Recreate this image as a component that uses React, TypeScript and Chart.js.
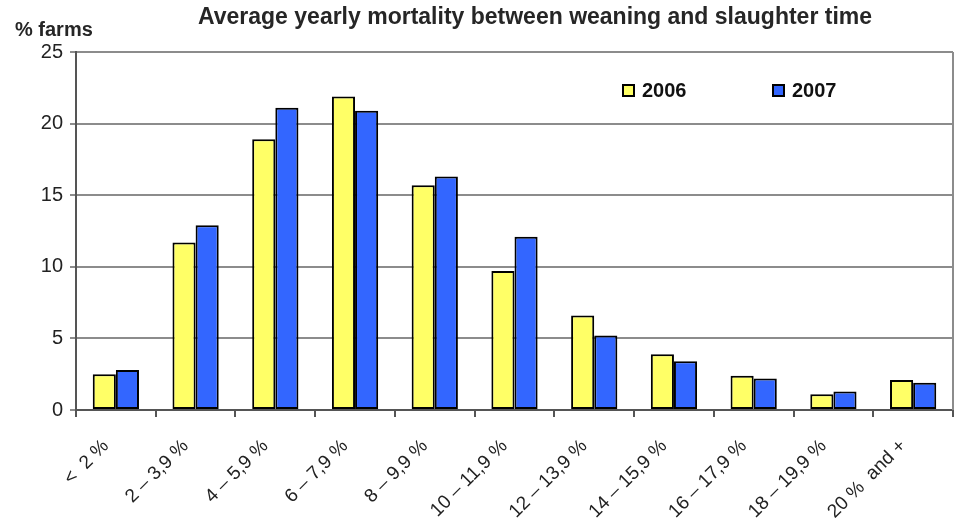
import React, { useEffect, useRef } from "react";
import { Chart, registerables } from "chart.js";

Chart.register(...registerables);

const categories = [
  "<  2 %",
  "2 – 3,9 %",
  "4 – 5,9 %",
  "6 – 7,9 %",
  "8 – 9,9 %",
  "10 – 11,9 %",
  "12 – 13,9 %",
  "14 – 15,9 %",
  "16 – 17,9 %",
  "18 – 19,9 %",
  "20 %  and +",
];
const values2006 = [2.5, 11.7, 18.9, 21.9, 15.7, 9.7, 6.6, 3.9, 2.4, 1.1, 2.1];
const values2007 = [2.8, 12.9, 21.1, 20.9, 16.3, 12.1, 5.2, 3.4, 2.2, 1.3, 1.9];
const seriesNames = ["2006", "2007"];
const seriesColors = ["#FFFF66", "#3366FF"];
const yMin = 0;
const yMax = 25;
const yStep = 5;
const chartTitle = "Average yearly mortality between weaning and slaughter time";
const yAxisTitle = "% farms";

const FONT = "'Liberation Sans', Arial, sans-serif";

const decorPlugin = {
  id: "decor",
  beforeDatasetsDraw(chart: any) {
    const { ctx, chartArea } = chart;
    ctx.save();
    ctx.strokeStyle = "#8c8c8c";
    ctx.lineWidth = 2;
    ctx.beginPath();
    ctx.moveTo(chartArea.right, chartArea.top);
    ctx.lineTo(chartArea.right, chartArea.bottom);
    ctx.stroke();
    ctx.restore();
  },
  afterDraw(chart: any) {
    const { ctx } = chart;
    ctx.save();
    ctx.fillStyle = "#262626";
    ctx.textBaseline = "middle";
    ctx.textAlign = "center";
    ctx.font = `bold 23px ${FONT}`;
    ctx.fillText(chartTitle, 535, 18);
    ctx.textAlign = "left";
    ctx.font = `bold 20px ${FONT}`;
    ctx.fillText(yAxisTitle, 15, 30);

    // legend
    const items = chart.data.datasets;
    const xs = [623, 773];
    items.forEach((ds: any, i: number) => {
      const x = xs[i];
      const y = 85;
      ctx.fillStyle = ds.backgroundColor;
      ctx.fillRect(x, y, 11, 11);
      ctx.strokeStyle = "#000";
      ctx.lineWidth = 2;
      ctx.strokeRect(x, y, 11, 11);
      ctx.fillStyle = "#111";
      ctx.font = `bold 20px ${FONT}`;
      ctx.textAlign = "left";
      ctx.fillText(ds.label, x + 19, y + 6);
    });
    ctx.restore();
  },
};

export default function App() {
  const ref = useRef<HTMLCanvasElement | null>(null);

  useEffect(() => {
    if (!ref.current) return;
    const chart = new Chart(ref.current, {
      type: "bar",
      data: {
        labels: categories,
        datasets: [
          {
            label: seriesNames[0],
            data: values2006,
            backgroundColor: seriesColors[0],
            borderColor: "#000",
            borderWidth: 2,
            borderSkipped: false,
            categoryPercentage: 0.58,
            barPercentage: 1.0,
          },
          {
            label: seriesNames[1],
            data: values2007,
            backgroundColor: seriesColors[1],
            borderColor: "#000",
            borderWidth: 2,
            borderSkipped: false,
            categoryPercentage: 0.58,
            barPercentage: 1.0,
          },
        ],
      },
      options: {
        responsive: false,
        animation: false,
        layout: { padding: { top: 52, right: 2, left: 0, bottom: 0 } },
        plugins: {
          legend: { display: false },
          title: { display: false },
          tooltip: { enabled: false },
        },
        scales: {
          x: {
            afterFit: (s: any) => {
              s.height = 113;
            },
            grid: {
              display: true,
              drawOnChartArea: false,
              drawTicks: true,
              tickLength: 7,
              color: "#555",
              lineWidth: 2,
              offset: true,
            },
            border: { display: true, color: "#555", width: 2 },
            ticks: {
              minRotation: 45,
              maxRotation: 45,
              autoSkip: false,
              color: "#222",
              padding: 18,
              labelOffset: -10,
              font: { family: FONT, size: 19 },
            },
          },
          y: {
            min: yMin,
            max: yMax,
            afterFit: (s: any) => {
              s.width = 76;
            },
            grid: {
              color: "#8c8c8c",
              lineWidth: 2,
              tickLength: 6,
              drawTicks: true,
            },
            border: { display: true, color: "#555", width: 2 },
            ticks: {
              stepSize: yStep,
              color: "#222",
              padding: 7,
              font: { family: FONT, size: 20 },
            },
          },
        },
      },
      plugins: [decorPlugin],
    });
    return () => chart.destroy();
  }, []);

  return (
    <div style={{ position: "absolute", left: 0, top: 0, width: 955, height: 523, background: "#fff" }}>
      <canvas ref={ref} width={955} height={523} />
    </div>
  );
}
